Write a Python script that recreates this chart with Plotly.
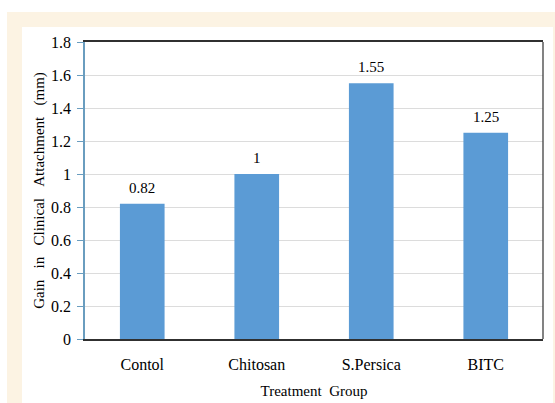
import plotly.graph_objects as go

categories = ["Contol", "Chitosan", "S.Persica", "BITC"]
values = [0.82, 1.0, 1.55, 1.25]
labels = ["0.82", "1", "1.55", "1.25"]
y_ticks = [0, 0.2, 0.4, 0.6, 0.8, 1, 1.2, 1.4, 1.6, 1.8]
y_ticktext = ["0", "0.2", "0.4", "0.6", "0.8", "1", "1.2", "1.4", "1.6", "1.8"]

W, H = 555, 403
L, R, T, B = 85, 12, 42, 64
pw, ph = W - L - R, H - T - B

def px(x):
    return (x - L) / pw

def py(y):
    return (H - B - y) / ph

FONT = "Liberation Serif, Times New Roman, serif"
NB = "\u00a0"
GAP = NB + " " + NB

fig = go.Figure()
fig.add_trace(go.Bar(
    x=categories, y=values,
    marker=dict(color="#5b9bd5", line=dict(width=0)),
    width=0.39, hoverinfo="x+y",
))

annotations = [
    dict(x=c, y=v, text=t, xref="x", yref="y", showarrow=False,
         yanchor="bottom", yshift=6,
         font=dict(family=FONT, size=15, color="#000000"))
    for c, v, t in zip(categories, values, labels)
]

shapes = [
    dict(type="rect", xref="paper", yref="paper", x0=px(7), x1=px(560), y0=py(410), y1=py(12),
         fillcolor="#fcf3e3", line=dict(width=0), layer="below"),
    dict(type="rect", xref="paper", yref="paper", x0=px(22), x1=px(553), y0=py(410), y1=py(27),
         fillcolor="#ffffff", line=dict(width=0), layer="below"),
    dict(type="line", xref="paper", yref="paper", x0=1, x1=1, y0=0, y1=1,
         line=dict(color="#404040", width=1.3)),
]

fig.update_layout(
    width=W, height=H,
    margin=dict(l=L, r=R, t=T, b=B, pad=0, autoexpand=False),
    paper_bgcolor="#ffffff", plot_bgcolor="rgba(0,0,0,0)",
    showlegend=False, shapes=shapes, annotations=annotations,
    font=dict(family=FONT, color="#000000"),
    xaxis=dict(
        automargin=False,
        showline=True, linecolor="#303030", linewidth=1.5, mirror=True,
        ticks="", ticklabelstandoff=10,
        tickfont=dict(family=FONT, size=16, color="#000000"),
        title=dict(text=f"Treatment{NB} Group", font=dict(family=FONT, size=15), standoff=14),
        showgrid=False,
    ),
    yaxis=dict(
        automargin=False,
        range=[0, 1.8], tickvals=y_ticks, ticktext=y_ticktext,
        showline=True, linecolor="#6a9dbf", linewidth=1.5,
        ticks="outside", ticklen=6, tickcolor="#6a9dbf", tickwidth=1.2,
        ticklabelstandoff=3,
        tickfont=dict(family=FONT, size=16, color="#000000"),
        showgrid=True, gridcolor="#dcdcdc", gridwidth=1,
        zeroline=False,
        title=dict(text=f"Gain{GAP}in{GAP}Clinical{GAP}Attachment{GAP}(mm)",
                   font=dict(family=FONT, size=15), standoff=3),
    ),
)

fig.write_html("out.html")
